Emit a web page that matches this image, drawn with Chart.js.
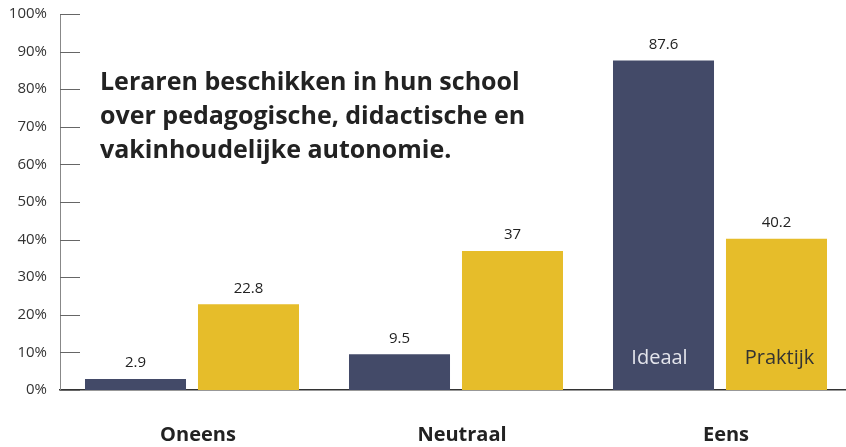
<!DOCTYPE html>
<html>
<head>
<meta charset="utf-8">
<script src="https://cdn.jsdelivr.net/npm/chart.js@4"></script>
<style>
    html, body { margin: 0; padding: 0; background: #fff; overflow: hidden; }
    #wrap { width: 852px; height: 447px; }
</style>
</head>
<body>
<div id="wrap"><canvas id="chart"></canvas></div>
<script>
const categories = ['Oneens', 'Neutraal', 'Eens']
const seriesNames = ['Ideaal', 'Praktijk']
const ideaal = [2.9, 9.5, 87.6]
const praktijk = [22.8, 37, 40.2]
const yTicks = [0, 10, 20, 30, 40, 50, 60, 70, 80, 90, 100]
const titleLines = [
    'Leraren beschikken in hun school',
    'over pedagogische, didactische en',
    'vakinhoudelijke autonomie.'
]

const NAVY = '#434a68'
const YELLOW = '#e6bd2a'
const FONT = '"Open Sans", Lato, sans-serif'

// short tick marks on the inside of the y axis
const innerTicks = {
    id: 'innerTicks',
    afterDraw(chart) {
        const ctx = chart.ctx
        const y = chart.scales.y
        ctx.save()
        ctx.strokeStyle = '#666'
        ctx.lineWidth = 1
        for (const v of yTicks) {
            const py = Math.round(y.getPixelForValue(v)) + 0.5
            ctx.beginPath()
            ctx.moveTo(y.right, py)
            ctx.lineTo(y.right + 20, py)
            ctx.stroke()
        }
        ctx.restore()
    }
}

// value labels above bars + series names inside last group
const barLabels = {
    id: 'barLabels',
    afterDatasetsDraw(chart) {
        const ctx = chart.ctx
        const base = chart.scales.y.getPixelForValue(0)
        ctx.save()
        ctx.textAlign = 'center'
        ctx.textBaseline = 'middle'
        chart.data.datasets.forEach((ds, i) => {
            const meta = chart.getDatasetMeta(i)
            meta.data.forEach((bar, j) => {
                ctx.font = '15px ' + FONT
                ctx.fillStyle = '#222'
                ctx.fillText(String(ds.data[j]), bar.x, bar.y - 16)
            })
            const last = meta.data[meta.data.length - 1]
            ctx.font = '20px ' + FONT
            ctx.fillStyle = i === 0 ? '#e4e5ec' : '#333'
            ctx.fillText(seriesNames[i], last.x + (i === 0 ? -4 : 3), base - 32)
        })
        ctx.restore()
    }
}

// title text in the upper left of the plot
const titleText = {
    id: 'titleText',
    afterDraw(chart) {
        const ctx = chart.ctx
        ctx.save()
        ctx.font = 'bold 25px ' + FONT
        ctx.fillStyle = '#222'
        ctx.textAlign = 'left'
        ctx.textBaseline = 'alphabetic'
        titleLines.forEach((line, i) => {
            ctx.fillText(line, 100, 90 + i * 34)
        })
        ctx.restore()
    }
}

new Chart(document.getElementById('chart'), {
    type: 'bar',
    data: {
        labels: categories,
        datasets: [
            { label: seriesNames[0], data: ideaal, backgroundColor: NAVY },
            { label: seriesNames[1], data: praktijk, backgroundColor: YELLOW }
        ]
    },
    options: {
        responsive: true,
        maintainAspectRatio: false,
        animation: false,
        categoryPercentage: 0.856,
        barPercentage: 0.894,
        layout: { padding: { top: 14, right: 0, left: 0, bottom: 0 } },
        plugins: {
            legend: { display: false },
            tooltip: { enabled: false }
        },
        scales: {
            x: {
                grid: { display: false, drawTicks: false },
                border: { display: true, color: '#333', width: 1.5 },
                ticks: {
                    padding: 33,
                    labelOffset: 6,
                    color: '#222',
                    font: { family: FONT, size: 20, weight: 'bold' }
                },
                afterFit: (s) => { s.height = 57 }
            },
            y: {
                min: 0,
                max: 100,
                afterBuildTicks: (s) => { s.ticks = yTicks.map(v => ({ value: v })) },
                grid: { display: false, drawTicks: false },
                border: { display: true, color: '#888', width: 1 },
                ticks: {
                    padding: 13,
                    color: '#333',
                    font: { family: FONT, size: 15 },
                    callback: (v) => v + '%'
                },
                afterFit: (s) => {
                    s.width = 60
                    s.paddingTop = 0
                    s.paddingBottom = 0
                }
            }
        }
    },
    plugins: [innerTicks, barLabels, titleText]
})
</script>
</body>
</html>
